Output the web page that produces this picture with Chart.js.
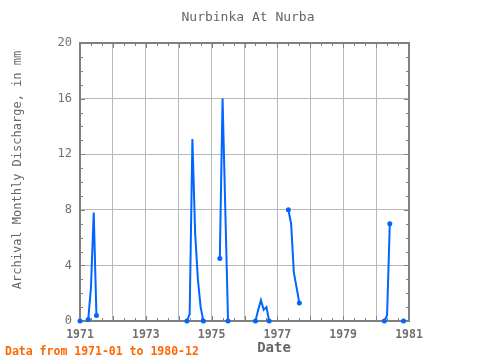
<!DOCTYPE html>
<html><head><meta charset="utf-8">
<script src="https://cdn.jsdelivr.net/npm/chart.js@4/dist/chart.umd.min.js"></script>
<style>html,body{margin:0;padding:0;background:#fff}#wrap{width:480px;height:360px}</style>
</head><body><div id="wrap"><canvas id="c" width="480" height="360"></canvas></div>
<script>
// Monthly records (null = missing month, breaks the line)
const months = [
  '1971-01','1971-02',
  '1971-04','1971-05','1971-06','1971-07','1971-08',
  '1974-04','1974-05','1974-06','1974-07','1974-08','1974-09','1974-10','1974-11',
  '1975-04','1975-05','1975-06','1975-07','1975-08',
  '1976-05','1976-06','1976-07','1976-08','1976-09','1976-10','1976-11',
  '1977-05','1977-06','1977-07','1977-08','1977-09','1977-10',
  '1980-04','1980-05','1980-06','1980-07',
  '1980-11'
];
const discharge = [
  0, null,
  0.1, 2.4, 7.8, 0.4, null,
  0, 0.5, 13.1, 6.3, 3.0, 1.0, 0, null,
  4.5, 16.0, 8.0, 0, null,
  0, 0.8, 1.5, 0.8, 1.0, 0, null,
  8.0, 7.0, 3.5, 2.4, 1.3, null,
  0, 0.4, 7.0, null,
  0
];
const yearTicks = [1971,1972,1973,1974,1975,1976,1977,1978,1979,1980,1981];
const yTickValues = [0,4,8,12,16,20];
const titleText = 'Nurbinka At Nurba';
const yTitle = 'Archival Monthly Discharge, in mm';
const xTitle = 'Date';
const noteText = 'Data from 1971-01 to 1980-12';

const points = months.map((m, i) => {
  const [yy, mm] = m.split('-').map(Number);
  return { x: yy + (mm - 1) / 12, y: discharge[i] };
});

const FONT = "'DejaVu Sans Mono', 'Liberation Mono', monospace";

const decor = {
  id: 'decor',
  beforeDatasetsDraw(chart) {
    const { ctx, chartArea: a, scales: { x, y } } = chart;
    ctx.save();
    ctx.strokeStyle = '#808080';
    ctx.lineWidth = 1;
    const x0 = yearTicks[0], x1 = yearTicks[yearTicks.length - 1];
    for (let i = 0; i <= (x1 - x0) * 3; i++) {
      const px = Math.round(x.getPixelForValue(x0 + i / 3)) + 0.5;
      const len = i % 3 === 0 ? 5 : 3;
      ctx.beginPath();
      ctx.moveTo(px, a.bottom); ctx.lineTo(px, a.bottom - len);
      ctx.moveTo(px, a.top); ctx.lineTo(px, a.top + len);
      ctx.stroke();
    }
    const ymax = yTickValues[yTickValues.length - 1];
    for (let v = 0; v <= ymax; v++) {
      const py = Math.round(y.getPixelForValue(v)) + 0.5;
      const len = v % 4 === 0 ? 5 : 3;
      ctx.beginPath();
      ctx.moveTo(a.left, py); ctx.lineTo(a.left + len, py);
      ctx.moveTo(a.right, py); ctx.lineTo(a.right - len, py);
      ctx.stroke();
    }
    ctx.lineWidth = 2;
    ctx.strokeRect(a.left, a.top, a.right - a.left, a.bottom - a.top);
    ctx.restore();
  },
  afterDraw(chart) {
    const { ctx } = chart;
    ctx.save();
    ctx.fillStyle = '#666666';
    ctx.textAlign = 'center';
    ctx.textBaseline = 'middle';
    ctx.font = '13px ' + FONT;
    ctx.fillText(titleText, 248, 18);
    ctx.font = 'bold 14px ' + FONT;
    ctx.fillText(xTitle, 274, 348);
    ctx.save();
    ctx.translate(18, 170);
    ctx.rotate(-Math.PI / 2);
    ctx.font = '12px ' + FONT;
    ctx.fillText(yTitle, 0, 0);
    ctx.restore();
    ctx.fillStyle = '#ff6600';
    ctx.textAlign = 'left';
    ctx.font = 'bold 11.5px ' + FONT;
    ctx.fillText(noteText, 5, 352);
    ctx.restore();
  }
};

function endpointRadius(ctx) {
  const d = ctx.dataset.data, i = ctx.dataIndex;
  if (!d[i] || d[i].y === null) return 0;
  const p = d[i - 1], n = d[i + 1];
  return (!p || p.y === null || !n || n.y === null) ? 2.5 : 0;
}

new Chart(document.getElementById('c'), {
  type: 'line',
  data: {
    datasets: [{
      data: points,
      borderColor: '#0066ff',
      backgroundColor: '#0066ff',
      borderWidth: 2,
      pointRadius: endpointRadius,
      pointBorderWidth: 0,
      pointHoverRadius: 0,
      spanGaps: false,
      tension: 0,
      clip: false
    }]
  },
  options: {
    responsive: false,
    animation: false,
    events: [],
    layout: { padding: { left: 0, right: 71, top: 43, bottom: 0 } },
    plugins: { legend: { display: false }, tooltip: { enabled: false }, title: { display: false } },
    scales: {
      x: {
        type: 'linear',
        min: yearTicks[0], max: yearTicks[yearTicks.length - 1],
        afterBuildTicks: s => { s.ticks = yearTicks.map(v => ({ value: v })); },
        afterFit: s => { s.height = 39; },
        ticks: {
          autoSkip: false, maxRotation: 0,
          padding: 7,
          color: '#707070',
          font: { family: FONT, size: 11.5, weight: 'bold' },
          callback: v => ((v - yearTicks[0]) % 2 === 0 ? String(v) : '')
        },
        grid: { color: '#b8b8b8', lineWidth: 1, drawTicks: false },
        border: { display: false }
      },
      y: {
        min: 0, max: yTickValues[yTickValues.length - 1],
        afterBuildTicks: s => { s.ticks = yTickValues.map(v => ({ value: v })); },
        afterFit: s => { s.width = 80; },
        ticks: {
          padding: 8,
          color: '#707070',
          font: { family: FONT, size: 12 },
          callback: v => String(v)
        },
        grid: { color: '#b8b8b8', lineWidth: 1, drawTicks: false },
        border: { display: false }
      }
    }
  },
  plugins: [decor]
});
</script>
</body></html>
